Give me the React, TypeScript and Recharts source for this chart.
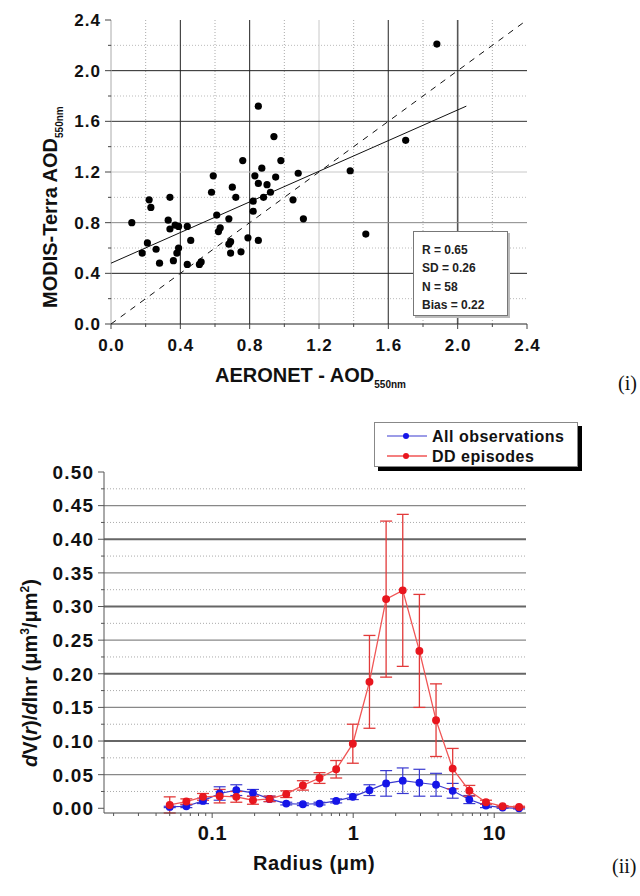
import React from "react";
import { ComposedChart, Scatter, Line, XAxis, YAxis, ReferenceLine, ErrorBar } from "recharts";

const FONT = '"Liberation Sans", Arial, Helvetica, sans-serif';
const SERIF = '"Liberation Serif", "Times New Roman", serif';

// ---- (i) MODIS-Terra vs AERONET AOD ----
const aeronetAod = [
  0.12, 0.18, 0.21, 0.22, 0.23, 0.26, 0.28, 0.34, 0.33, 0.34, 0.36, 0.37, 0.38, 0.39, 0.39,
  0.44, 0.44, 0.46, 0.51, 0.52, 0.58, 0.59, 0.61, 0.62, 0.63, 0.68, 0.68, 0.69, 0.69, 0.7,
  0.72, 0.75, 0.76, 0.79, 0.82, 0.82, 0.83, 0.85, 0.85, 0.87, 0.88, 0.9, 0.92, 0.95, 0.98,
  1.05, 1.08, 1.11, 0.85, 0.94, 1.88, 1.7, 1.38, 1.47,
];
const modisAod = [
  0.8, 0.56, 0.64, 0.98, 0.92, 0.59, 0.48, 1.0, 0.82, 0.75, 0.5, 0.78, 0.56, 0.6, 0.77,
  0.77, 0.47, 0.66, 0.47, 0.49, 1.04, 1.17, 0.86, 0.73, 0.76, 0.83, 0.63, 0.65, 0.56, 1.08,
  1.0, 0.57, 1.29, 0.68, 0.97, 0.89, 1.17, 0.66, 1.11, 1.23, 1.0, 1.1, 1.04, 1.16, 1.29,
  0.98, 1.19, 0.83, 1.72, 1.48, 2.21, 1.45, 1.21, 0.71,
];
const oneToOneX = [0, 2.4];
const oneToOneY = [0, 2.4];
const fitX = [0, 2.05];
const fitY = [0.48, 1.72];
const statLines = ["R = 0.65", "SD = 0.26", "N = 58", "Bias = 0.22"];
const aodTicks = [0, 0.2, 0.4, 0.6, 0.8, 1.0, 1.2, 1.4, 1.6, 1.8, 2.0, 2.2, 2.4];
const aodMajor = [0, 0.4, 0.8, 1.2, 1.6, 2.0, 2.4];
const aodMinorGrid = [0.2, 0.6, 1.0, 1.4, 1.8, 2.2];

// ---- (ii) volume size distribution ----
const radius = [
  0.05, 0.0656, 0.0861, 0.113, 0.1483, 0.1946, 0.2554, 0.3352, 0.4398, 0.5772, 0.7574,
  0.9939, 1.3043, 1.7115, 2.246, 2.9472, 3.8675, 5.075, 6.6596, 8.7393, 11.468, 15.0,
];
const allObs = [
  0.002, 0.003, 0.011, 0.022, 0.027, 0.023, 0.014, 0.007, 0.006, 0.007, 0.011,
  0.017, 0.027, 0.037, 0.041, 0.038, 0.035, 0.026, 0.013, 0.004, 0.001, 0.0,
];
const allObsErr = [
  0.001, 0.002, 0.004, 0.01, 0.008, 0.005, 0.004, 0.002, 0.002, 0.002, 0.003,
  0.004, 0.008, 0.019, 0.019, 0.02, 0.017, 0.011, 0.006, 0.003, 0.001, 0.001,
];
const ddEpisodes = [
  0.005, 0.01, 0.017, 0.018, 0.017, 0.012, 0.014, 0.021, 0.034, 0.045, 0.058,
  0.096, 0.188, 0.311, 0.324, 0.234, 0.131, 0.059, 0.026, 0.009, 0.003, 0.002,
];
const ddErr = [
  0.012, 0.004, 0.005, 0.01, 0.008, 0.006, 0.004, 0.005, 0.007, 0.008, 0.013,
  0.029, 0.069, 0.116, 0.113, 0.084, 0.054, 0.03, 0.008, 0.003, 0.001, 0.001,
];
const dvMajor = [0, 0.05, 0.1, 0.15, 0.2, 0.25, 0.3, 0.35, 0.4, 0.45, 0.5];
const dvMinor = [0.025, 0.075, 0.125, 0.175, 0.225, 0.275, 0.325, 0.375, 0.425, 0.475];
const radiusMajor = [0.1, 1, 10];
const radiusTicks = [
  0.02, 0.03, 0.04, 0.05, 0.06, 0.07, 0.08, 0.09, 0.1, 0.2, 0.3, 0.4, 0.5, 0.6, 0.7, 0.8,
  0.9, 1, 2, 3, 4, 5, 6, 7, 8, 9, 10,
];

const scatterData = aeronetAod.map((x, i) => ({ x, y: modisAod[i] }));
const oneToOneData = oneToOneX.map((x, i) => ({ x, y: oneToOneY[i] }));
const fitData = fitX.map((x, i) => ({ x, y: fitY[i] }));
const sizeData = radius.map((r, i) => ({
  r,
  all: allObs[i],
  allErr: allObsErr[i],
  dd: ddEpisodes[i],
  ddErr: ddErr[i],
}));

function makeTick(
  side: "left" | "bottom",
  majors: number[],
  fmt: (v: number) => string,
  fontSize: number,
  spacing: number,
  majorLen: number,
  minorLen: number,
  gap: number,
  color: string
) {
  return (props: any) => {
    const { x, y, payload } = props;
    const v = payload.value;
    const isMajor = majors.some((m) => Math.abs(m - v) < 1e-9);
    const len = isMajor ? majorLen : minorLen;
    const textStyle = { fontFamily: FONT, fontWeight: 700, fontSize, fill: "#111", letterSpacing: spacing };
    if (side === "left") {
      return (
        <g>
          <line x1={x - len} y1={y} x2={x} y2={y} stroke={color} />
          {isMajor && (
            <text x={x - gap + spacing} y={y} dy="0.36em" textAnchor="end" style={textStyle}>
              {fmt(v)}
            </text>
          )}
        </g>
      );
    }
    return (
      <g>
        <line x1={x} y1={y} x2={x} y2={y + len} stroke={color} />
        {isMajor && (
          <text x={x + spacing / 2} y={y + gap} textAnchor="middle" style={textStyle}>
            {fmt(v)}
          </text>
        )}
      </g>
    );
  };
}

const noShape = () => <g />;

function AodScatter() {
  return (
    <ComposedChart
      width={640}
      height={400}
      data={scatterData}
      margin={{ top: 20, right: 113, bottom: 0, left: 0 }}
    >
      <XAxis
        dataKey="x"
        type="number"
        domain={[0, 2.4]}
        ticks={aodTicks}
        interval={0}
        tickSize={0}
        tickMargin={0}
        tickLine={false}
        height={76}
        axisLine={{ stroke: "#222" }}
        tick={makeTick("bottom", aodMajor, (v) => v.toFixed(1), 17, 1, 5, 3, 27, "#444")}
      />
      <YAxis
        dataKey="y"
        type="number"
        domain={[0, 2.4]}
        ticks={aodTicks}
        interval={0}
        tickSize={0}
        tickMargin={0}
        tickLine={false}
        width={111}
        axisLine={{ stroke: "#aaa" }}
        tick={makeTick("left", aodMajor, (v) => v.toFixed(1), 17, 1, 6, 3, 11, "#444")}
      />
      {aodMinorGrid.map((v) => (
        <ReferenceLine key={"vx" + v} x={v} stroke="#aaa" strokeDasharray="1 2" />
      ))}
      {aodMinorGrid.map((v) => (
        <ReferenceLine key={"hy" + v} y={v} stroke="#bbb" strokeDasharray="1 2" />
      ))}
      <ReferenceLine x={0.4} stroke="#222" />
      <ReferenceLine x={0.8} stroke="#222" />
      <ReferenceLine x={1.2} stroke="#c8c8c8" />
      <ReferenceLine x={1.6} stroke="#555" strokeWidth={1.3} />
      <ReferenceLine x={2.0} stroke="#555" strokeWidth={1.6} />
      <ReferenceLine y={0.4} stroke="#222" />
      <ReferenceLine y={0.8} stroke="#888" />
      <ReferenceLine y={1.2} stroke="#c8c8c8" />
      <ReferenceLine y={1.6} stroke="#333" />
      <ReferenceLine y={2.0} stroke="#222" />
      <Scatter
        data={oneToOneData}
        line={{ stroke: "#111", strokeWidth: 1, strokeDasharray: "6 6" }}
        shape={noShape}
        isAnimationActive={false}
      />
      <Scatter
        data={fitData}
        line={{ stroke: "#111", strokeWidth: 1 }}
        shape={noShape}
        isAnimationActive={false}
      />
      <Scatter data={scatterData} fill="#000" isAnimationActive={false} shape={(p: any) => (
        <circle cx={p.cx} cy={p.cy} r={3.6} fill="#000" />
      )} />
    </ComposedChart>
  );
}

function SizeDistribution() {
  return (
    <ComposedChart
      width={640}
      height={476}
      data={sizeData}
      margin={{ top: 52, right: 114, bottom: 0, left: 0 }}
    >
      <XAxis
        dataKey="r"
        type="number"
        scale="log"
        domain={[0.0171, 16.8]}
        allowDataOverflow
        ticks={radiusTicks}
        interval={0}
        tickSize={0}
        tickMargin={0}
        tickLine={false}
        height={83}
        axisLine={{ stroke: "#444" }}
        tick={makeTick("bottom", radiusMajor, (v) => String(v), 20, 0.5, 5, 3, 27, "#555")}
      />
      <YAxis
        type="number"
        domain={[0, 0.5]}
        ticks={[...dvMajor, ...dvMinor].sort((a, b) => a - b)}
        interval={0}
        tickSize={0}
        tickMargin={0}
        tickLine={false}
        width={104}
        axisLine={{ stroke: "#555" }}
        tick={makeTick("left", dvMajor, (v) => v.toFixed(2), 19, 1.2, 6, 3, 11, "#555")}
      />
      {dvMinor.map((v) => (
        <ReferenceLine key={"m" + v} y={v} stroke="#aaa" strokeDasharray="1 2" />
      ))}
      {dvMajor.slice(1, -1).map((v, i) => (
        <ReferenceLine
          key={"M" + v}
          y={v}
          stroke={i % 2 === 0 ? "#888" : "#666"}
          strokeWidth={i % 2 === 0 ? 1.3 : 2}
        />
      ))}
      <Line
        dataKey="all"
        stroke="#3a3ad0"
        strokeWidth={1.2}
        dot={{ r: 3.3, fill: "#1515e8", stroke: "#1515e8" }}
        isAnimationActive={false}
      >
        <ErrorBar dataKey="allErr" direction="y" width={6} stroke="#3a3ad0" strokeWidth={1.2} />
      </Line>
      <Line
        dataKey="dd"
        stroke="#f05555"
        strokeWidth={1.3}
        dot={{ r: 3.3, fill: "#e8161e", stroke: "#e8161e" }}
        isAnimationActive={false}
      >
        <ErrorBar dataKey="ddErr" direction="y" width={6} stroke="#e23a3a" strokeWidth={1.3} />
      </Line>
    </ComposedChart>
  );
}

export default function App() {
  const label = { fontFamily: FONT, fontWeight: 700, fill: "#111" };
  return (
    <div style={{ position: "absolute", left: 0, top: 0, width: 640, height: 896, background: "#fff", overflow: "hidden" }}>
      <div style={{ position: "absolute", left: 0, top: 0 }}>
        <AodScatter />
      </div>
      <div style={{ position: "absolute", left: 0, top: 420 }}>
        <SizeDistribution />
      </div>

      {/* stats box */}
      <div
        style={{
          position: "absolute",
          left: 413,
          top: 231,
          width: 95,
          height: 85,
          background: "#fff",
          border: "1px solid #777",
          boxShadow: "2px 2px 0 #bbb",
          fontFamily: FONT,
          fontWeight: 700,
          fontSize: 12,
          color: "#222",
          boxSizing: "border-box",
          padding: "9px 0 0 8px",
          lineHeight: "18.3px",
        }}
      >
        {statLines.map((s) => (
          <div key={s}>{s}</div>
        ))}
      </div>

      {/* legend */}
      <div
        style={{
          position: "absolute",
          left: 374,
          top: 422,
          width: 204,
          height: 45,
          background: "#fff",
          border: "1px solid #888",
          boxShadow: "4px 4px 0 #000",
          boxSizing: "border-box",
        }}
      >
        <svg width={202} height={43} style={{ position: "absolute", left: 0, top: 0 }}>
          <line x1={12} x2={52} y1={13} y2={13} stroke="#3a3ad0" strokeWidth={1.2} />
          <circle cx={31} cy={13} r={3} fill="#1515e8" />
          <text x={57} y={19} style={{ ...label, fontSize: 16, letterSpacing: 0.5 }}>All observations</text>
          <line x1={12} x2={52} y1={33} y2={33} stroke="#f05555" strokeWidth={1.3} />
          <circle cx={31} cy={33} r={3} fill="#e8161e" />
          <text x={57} y={39} style={{ ...label, fontSize: 16, letterSpacing: 0.5 }}>DD episodes</text>
        </svg>
      </div>

      <svg width={640} height={896} style={{ position: "absolute", left: 0, top: 0, pointerEvents: "none" }}>
        <text transform="translate(57,308) rotate(-90)" style={{ ...label, fontSize: 20 }}>
          MODIS-Terra AOD
          <tspan fontSize={10} dy={6}>550nm</tspan>
        </text>
        <text x={215} y={382} style={{ ...label, fontSize: 20 }}>
          AERONET - AOD
          <tspan fontSize={10} dy={6}>550nm</tspan>
        </text>
        <text x={618} y={390} style={{ fontFamily: SERIF, fontSize: 20, fill: "#111" }}>(i)</text>

        <text transform="translate(37,767) rotate(-90)" style={{ ...label, fontSize: 20 }}>
          <tspan fontStyle="italic">d</tspan>
          <tspan>V(</tspan>
          <tspan fontStyle="italic">r</tspan>
          <tspan>)/</tspan>
          <tspan fontStyle="italic">d</tspan>
          <tspan>lnr (μm</tspan>
          <tspan fontSize={12} dy={-8}>3</tspan>
          <tspan dy={8}>/μm</tspan>
          <tspan fontSize={12} dy={-8}>2</tspan>
          <tspan dy={8}>)</tspan>
        </text>
        <text x={253} y={870} style={{ ...label, fontSize: 20, letterSpacing: 0.6 }}>Radius (μm)</text>
        <text x={612} y={873} style={{ fontFamily: SERIF, fontSize: 20, fill: "#111" }}>(ii)</text>
      </svg>
    </div>
  );
}
